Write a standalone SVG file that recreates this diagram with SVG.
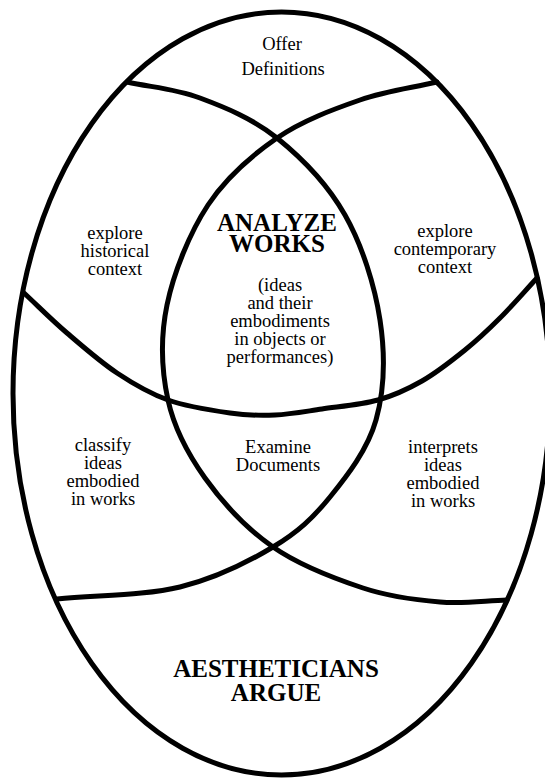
<svg xmlns="http://www.w3.org/2000/svg" width="545" height="778" viewBox="0 0 545 778">
<style>
.ln{fill:none;stroke:#000;stroke-width:5;stroke-linecap:round;stroke-linejoin:round}
.t{font-family:"Liberation Serif","Times New Roman",serif;font-size:18.5px;fill:#000;text-anchor:middle}
.b{font-family:"Liberation Serif","Times New Roman",serif;font-size:25px;font-weight:bold;fill:#000;text-anchor:middle}
</style>
<rect width="545" height="778" fill="#fff"/>
<g id="connectors">
<ellipse class="ln" cx="281.5" cy="393.5" rx="268.5" ry="381.5"/>
<path id="curveA" class="ln" d="M127,82 C151.3,87.3 175,88.7 200,98 C225,107.3 252.8,118.5 277,138 C301.2,157.5 327.8,184.7 345,215 C362.2,245.3 374.8,285.8 380,320 C385.2,354.2 384.3,390.5 376,420 C367.7,449.5 347.2,475.8 330,497 C312.8,518.2 298,532 273,547 C248,562 216,578.3 180,587 C144,595.7 98,595 57,599"/>
<path id="curveB" class="ln" d="M437,82 C411.3,88 386.7,90.7 360,100 C333.3,109.3 302.3,120.5 277,138 C251.7,155.5 226.3,177.2 208,205 C189.7,232.8 173.7,272.5 167,305 C160.3,337.5 161.7,371.2 168,400 C174.3,428.8 187.5,453.5 205,478 C222.5,502.5 246.7,528.7 273,547 C299.3,565.3 335.2,578.8 363,588 C390.8,597.2 416,600 440,602 C464,604 484.7,600.7 507,600"/>
<path id="curveC" class="ln" d="M24,293 C38.3,306.3 51.5,319.7 67,333 C82.5,346.3 100.2,361.8 117,373 C133.8,384.2 149.2,393.3 168,400 C186.8,406.7 212.2,410.5 230,413 C247.8,415.5 259.7,415.7 275,415 C290.3,414.3 304.8,411.5 322,409 C339.2,406.5 361.3,404.7 378,400 C394.7,395.3 407.5,389.3 422,381 C436.5,372.7 452,360.5 465,350 C478,339.5 488,330 500,318 C512,306 524.7,291.3 537,278"/>
</g>
<g id="offer">
<text class="t"><tspan x="282" y="50">Offer</tspan><tspan x="283" y="75">Definitions</tspan></text>
</g>
<g id="historical">
<text class="t"><tspan x="115" y="239">explore</tspan><tspan x="115" y="257">historical</tspan><tspan x="115" y="275">context</tspan></text>
</g>
<g id="analyze">
<text class="b"><tspan x="277" y="231">ANALYZE</tspan><tspan x="277" y="252">WORKS</tspan></text>
<text class="t"><tspan x="280" y="291">(ideas</tspan><tspan x="280" y="309">and their</tspan><tspan x="280" y="327">embodiments</tspan><tspan x="280" y="345">in objects or</tspan><tspan x="280" y="363">performances)</tspan></text>
</g>
<g id="contemporary">
<text class="t"><tspan x="445" y="237">explore</tspan><tspan x="445" y="255">contemporary</tspan><tspan x="445" y="273">context</tspan></text>
</g>
<g id="classify">
<text class="t"><tspan x="103" y="451">classify</tspan><tspan x="103" y="469">ideas</tspan><tspan x="103" y="487">embodied</tspan><tspan x="103" y="505">in works</tspan></text>
</g>
<g id="examine">
<text class="t"><tspan x="278" y="453">Examine</tspan><tspan x="278" y="471">Documents</tspan></text>
</g>
<g id="interprets">
<text class="t"><tspan x="443" y="453">interprets</tspan><tspan x="443" y="471">ideas</tspan><tspan x="443" y="489">embodied</tspan><tspan x="443" y="507">in works</tspan></text>
</g>
<g id="aestheticians">
<text class="b"><tspan x="276" y="677">AESTHETICIANS</tspan><tspan x="276" y="701">ARGUE</tspan></text>
</g>
</svg>
